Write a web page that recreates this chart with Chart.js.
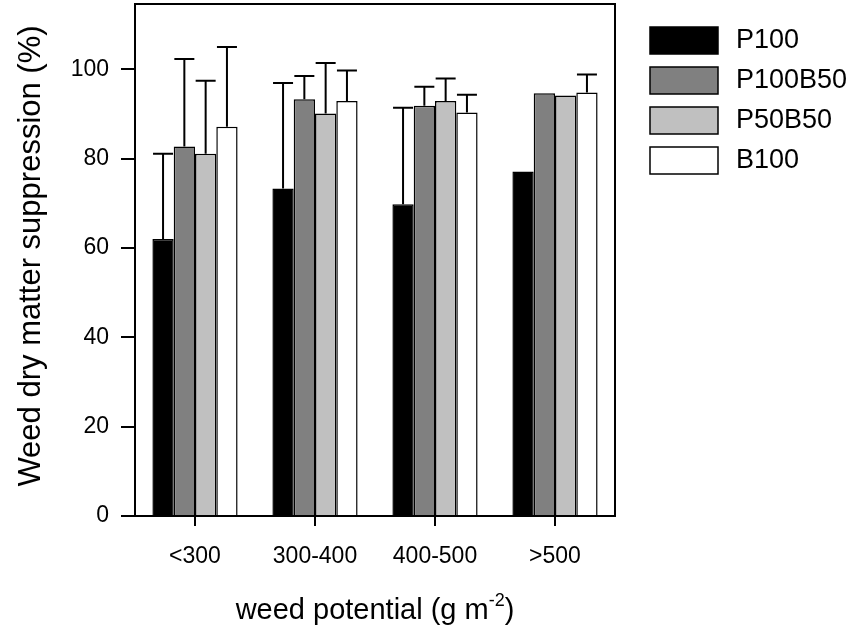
<!DOCTYPE html>
<html>
<head>
<meta charset="utf-8">
<script src="https://cdn.jsdelivr.net/npm/chart.js@4"></script>
<style>
  body { margin: 0; background: #fff; }
  #wrap { width: 863px; height: 642px; }
</style>
</head>
<body>
<div id="wrap"><canvas id="weedChart"></canvas></div>
<script>
const categories = ["<300", "300-400", "400-500", ">500"];
const seriesNames = ["P100", "P100B50", "P50B50", "B100"];
const seriesColors = ["#000000", "#808080", "#c0c0c0", "#ffffff"];

// mean suppression (%)
const p100 = [62.0, 73.3, 69.8, 77.1];
const p100b50 = [82.7, 93.3, 91.8, 94.6];
const p50b50 = [81.1, 90.1, 92.9, 94.1];
const b100 = [87.1, 92.9, 90.3, 94.8];

// upper error (%)
const p100Err = [19.1, 23.6, 21.6, 0];
const p100b50Err = [19.6, 5.2, 4.3, 0];
const p50b50Err = [16.3, 11.3, 5.0, 0];
const b100Err = [17.9, 6.8, 4.0, 4.0];

const yTicks = [0, 20, 40, 60, 80, 100];

const FONT = "'Liberation Sans', Arial, sans-serif";

const values = [p100, p100b50, p50b50, b100];
const errors = [p100Err, p100b50Err, p50b50Err, b100Err];

const datasets = seriesNames.map((name, i) => ({
	label: name,
	data: values[i],
	errors: errors[i],
	backgroundColor: seriesColors[i],
	borderColor: "#000",
	borderWidth: 1.5,
	borderSkipped: "bottom",
	categoryPercentage: 0.71,
	barPercentage: 1.0,
}));

// error bars, frame, legend and axis titles
const extras = {
	id: "extras",
	afterDatasetsDraw(chart) {
		const ctx = chart.ctx;
		const y = chart.scales.y;
		ctx.save();
		ctx.strokeStyle = "#000";
		ctx.lineWidth = 2;
		chart.data.datasets.forEach((ds, i) => {
			const meta = chart.getDatasetMeta(i);
			meta.data.forEach((bar, j) => {
				const err = ds.errors[j];
				if (!err) return;
				const top = y.getPixelForValue(ds.data[j] + err);
				ctx.beginPath();
				ctx.moveTo(bar.x, bar.y);
				ctx.lineTo(bar.x, top);
				ctx.moveTo(bar.x - 10, top);
				ctx.lineTo(bar.x + 10, top);
				ctx.stroke();
			});
		});
		ctx.restore();
	},
	afterDraw(chart) {
		const ctx = chart.ctx;
		const a = chart.chartArea;
		ctx.save();
		// frame top + right
		ctx.strokeStyle = "#000";
		ctx.lineWidth = 2;
		ctx.beginPath();
		ctx.moveTo(a.left, a.top);
		ctx.lineTo(a.right, a.top);
		ctx.lineTo(a.right, a.bottom);
		ctx.stroke();

		// legend
		ctx.font = "27px " + FONT;
		ctx.textBaseline = "middle";
		ctx.textAlign = "left";
		chart.data.datasets.forEach((ds, i) => {
			const by = 27 + i * 40;
			ctx.fillStyle = ds.backgroundColor;
			ctx.fillRect(650, by, 68, 27);
			ctx.lineWidth = 1.5;
			ctx.strokeRect(650, by, 68, 27);
			ctx.fillStyle = "#000";
			ctx.fillText(ds.label, 736, by + 14);
		});

		// x title with superscript
		const cx = (a.left + a.right) / 2;
		ctx.font = "29px " + FONT;
		ctx.textBaseline = "alphabetic";
		const t1 = "weed potential (g m";
		const sup = "-2";
		const t2 = ")";
		const w1 = ctx.measureText(t1).width;
		const w3 = ctx.measureText(t2).width;
		ctx.font = "18px " + FONT;
		const w2 = ctx.measureText(sup).width;
		let x = cx - (w1 + w2 + w3) / 2;
		const base = 619;
		ctx.font = "29px " + FONT;
		ctx.fillText(t1, x, base);
		x += w1;
		ctx.font = "18px " + FONT;
		ctx.fillText(sup, x, base - 13);
		x += w2;
		ctx.font = "29px " + FONT;
		ctx.fillText(t2, x, base);

		// y title
		ctx.translate(31, 256);
		ctx.rotate(-Math.PI / 2);
		ctx.textAlign = "center";
		ctx.textBaseline = "middle";
		ctx.font = "31px " + FONT;
		ctx.fillText("Weed dry matter suppression (%)", 0, 0);
		ctx.restore();
	},
};

new Chart(document.getElementById("weedChart"), {
	type: "bar",
	data: { labels: categories, datasets: datasets },
	options: {
		responsive: true,
		maintainAspectRatio: false,
		animation: false,
		layout: { padding: { left: 0, top: 4, right: 248, bottom: 0 } },
		plugins: { legend: { display: false }, tooltip: { enabled: false } },
		scales: {
			x: {
				grid: { offset: false, drawOnChartArea: false, tickLength: 10, color: "#000", lineWidth: 2 },
				border: { display: true, color: "#000", width: 2 },
				ticks: { color: "#000", font: { family: FONT, size: 23 }, padding: 17, maxRotation: 0 },
				afterFit(scale) {
					scale.height = 126;
					scale.paddingLeft = 0;
					scale.paddingRight = 0;
				},
			},
			y: {
				min: 0,
				max: 114.6,
				afterBuildTicks(scale) { scale.ticks = yTicks.map(v => ({ value: v })); },
				grid: { drawOnChartArea: false, tickLength: 14, color: "#000", lineWidth: 2 },
				border: { display: true, color: "#000", width: 2 },
				ticks: { color: "#000", font: { family: FONT, size: 23 }, padding: 12 },
				afterFit(scale) {
					scale.width = 135;
					scale.paddingTop = 0;
					scale.paddingBottom = 0;
				},
			},
		},
	},
	plugins: [extras],
});
</script>
</body>
</html>
